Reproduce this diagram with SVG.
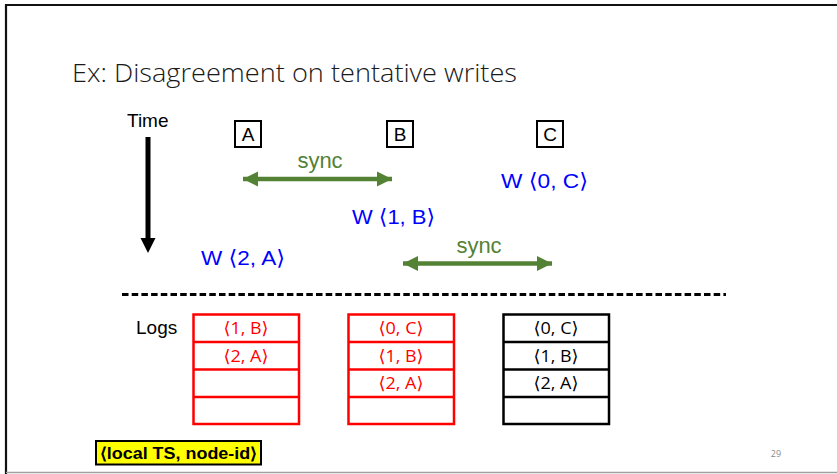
<svg xmlns="http://www.w3.org/2000/svg" width="837" height="474" viewBox="0 0 837 474">
<style>
.ar{font-family:"Liberation Sans",Arial,sans-serif}
.nb{fill:#fff;stroke:#000;stroke-width:2}
.nt{font-family:"Liberation Sans",Arial,sans-serif;font-size:19px;text-anchor:middle;fill:#000}
.w{font-family:"Liberation Sans","DejaVu Sans",sans-serif;font-size:21px;fill:#0000ff}
.sy{font-family:"Liberation Sans",Arial,sans-serif;font-size:22px;fill:#548235;text-anchor:middle}
.lr{fill:#fff;stroke:#ff0000;stroke-width:2.5}
.lk{fill:#fff;stroke:#000;stroke-width:2.5}
.lt{font-family:"Open Sans","DejaVu Sans",sans-serif;font-size:17px;text-anchor:middle}
</style>
<defs>
<marker id="gh" markerUnits="userSpaceOnUse" markerWidth="16" markerHeight="16" refX="15" refY="8" orient="auto-start-reverse" viewBox="0 0 16 16">
<path d="M0,0.5 L15,8 L0,15.5 Z" fill="#548235"/>
</marker>
</defs>
<rect x="0" y="0" width="837" height="474" fill="#fff"/>
<path d="M6,474 V5 H837" fill="none" stroke="#111" stroke-width="2.2"/>
<line x1="6" y1="472.5" x2="837" y2="472.5" stroke="#a0a0a0" stroke-width="1.5"/>
<text x="72" y="82" font-family="'Open Sans','Liberation Sans',sans-serif" font-weight="300" font-size="26" fill="#1a1a1a" textLength="445" lengthAdjust="spacingAndGlyphs">Ex: Disagreement on tentative writes</text>
<text x="127" y="127" class="ar" font-size="19" fill="#000">Time</text>
<g id="time-arrow">
<rect x="145.5" y="137" width="5" height="103" fill="#000"/>
<polygon points="140.5,238 155.5,238 148,253" fill="#000"/>
</g>
<g id="node-A"><rect class="nb" x="235" y="121" width="26" height="26"/><text class="nt" x="248" y="141">A</text></g>
<g id="node-B"><rect class="nb" x="387" y="121" width="26" height="26"/><text class="nt" x="400" y="141">B</text></g>
<g id="node-C"><rect class="nb" x="537" y="121" width="26" height="26"/><text class="nt" x="550" y="141">C</text></g>
<g id="connectors">
<line x1="243" y1="179" x2="392" y2="179" stroke="#548235" stroke-width="4.5" marker-start="url(#gh)" marker-end="url(#gh)"/>
<line x1="403" y1="263.5" x2="552" y2="263.5" stroke="#548235" stroke-width="4.5" marker-start="url(#gh)" marker-end="url(#gh)"/>
</g>
<text class="sy" x="320" y="168">sync</text>
<text class="sy" x="479" y="253">sync</text>
<text class="w" x="501" y="188" textLength="87" lengthAdjust="spacingAndGlyphs">W ⟨0, C⟩</text>
<text class="w" x="352" y="224" textLength="83" lengthAdjust="spacingAndGlyphs">W ⟨1, B⟩</text>
<text class="w" x="201" y="265" textLength="84" lengthAdjust="spacingAndGlyphs">W ⟨2, A⟩</text>
<line x1="122" y1="294.5" x2="726" y2="294.5" stroke="#000" stroke-width="3" stroke-dasharray="6.5,3.2"/>
<text x="136" y="334" class="ar" font-size="19" fill="#000">Logs</text>
<g id="log-A">
<rect class="lr" x="193.5" y="314.5" width="105.5" height="109.5"/>
<line x1="193.5" y1="342" x2="299" y2="342" stroke="#ff0000" stroke-width="2.5"/>
<line x1="193.5" y1="369.5" x2="299" y2="369.5" stroke="#ff0000" stroke-width="2.5"/>
<line x1="193.5" y1="397" x2="299" y2="397" stroke="#ff0000" stroke-width="2.5"/>
<text class="lt" x="246" y="334" fill="#ff0000" textLength="45" lengthAdjust="spacingAndGlyphs">⟨1, B⟩</text>
<text class="lt" x="246" y="362" fill="#ff0000" textLength="45" lengthAdjust="spacingAndGlyphs">⟨2, A⟩</text>
</g>
<g id="log-B">
<rect class="lr" x="348.5" y="314.5" width="105.5" height="109.5"/>
<line x1="348.5" y1="342" x2="454" y2="342" stroke="#ff0000" stroke-width="2.5"/>
<line x1="348.5" y1="369.5" x2="454" y2="369.5" stroke="#ff0000" stroke-width="2.5"/>
<line x1="348.5" y1="397" x2="454" y2="397" stroke="#ff0000" stroke-width="2.5"/>
<text class="lt" x="401" y="334" fill="#ff0000" textLength="45" lengthAdjust="spacingAndGlyphs">⟨0, C⟩</text>
<text class="lt" x="401" y="362" fill="#ff0000" textLength="45" lengthAdjust="spacingAndGlyphs">⟨1, B⟩</text>
<text class="lt" x="401" y="389" fill="#ff0000" textLength="45" lengthAdjust="spacingAndGlyphs">⟨2, A⟩</text>
</g>
<g id="log-C">
<rect class="lk" x="503.5" y="314.5" width="105.5" height="109.5"/>
<line x1="503.5" y1="342" x2="609" y2="342" stroke="#000" stroke-width="2.5"/>
<line x1="503.5" y1="369.5" x2="609" y2="369.5" stroke="#000" stroke-width="2.5"/>
<line x1="503.5" y1="397" x2="609" y2="397" stroke="#000" stroke-width="2.5"/>
<text class="lt" x="556" y="334" fill="#000" textLength="45" lengthAdjust="spacingAndGlyphs">⟨0, C⟩</text>
<text class="lt" x="556" y="362" fill="#000" textLength="45" lengthAdjust="spacingAndGlyphs">⟨1, B⟩</text>
<text class="lt" x="556" y="389" fill="#000" textLength="45" lengthAdjust="spacingAndGlyphs">⟨2, A⟩</text>
</g>
<g id="legend">
<rect x="96" y="441" width="165" height="23.5" fill="#ffff00" stroke="#000" stroke-width="2"/>
<text x="100" y="459" class="ar" font-size="16" font-weight="bold" fill="#000" textLength="157" lengthAdjust="spacingAndGlyphs">⟨local TS, node-id⟩</text>
</g>
<text x="776" y="457" font-family="'Open Sans',sans-serif" font-size="9" fill="#8a8a8a" text-anchor="middle">29</text>
</svg>
